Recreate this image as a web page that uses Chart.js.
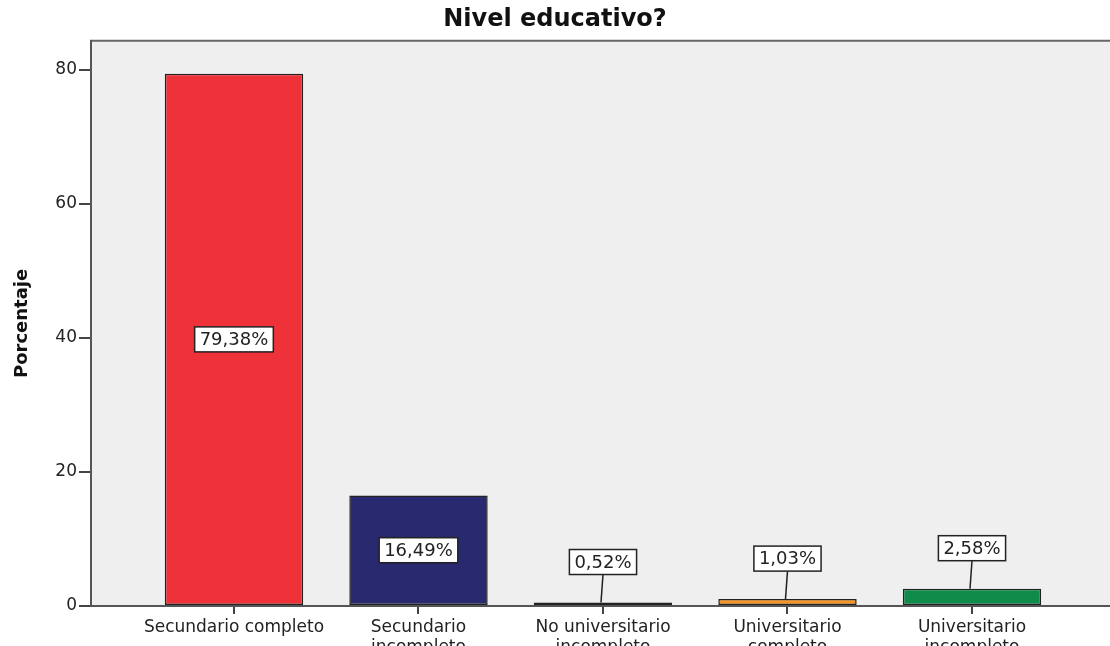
<!DOCTYPE html>
<html>
<head>
<meta charset="utf-8">
<script src="https://cdn.jsdelivr.net/npm/chart.js@4/dist/chart.umd.min.js"></script>
<style>
  html, body { margin: 0; padding: 0; background: #fff; }
  #wrap { width: 1110px; height: 646px; }
</style>
</head>
<body>
<div id="wrap"><canvas id="myChart" width="1110" height="646"></canvas></div>
<script>
const categories = [
  ['Secundario completo'],
  ['Secundario', 'incompleto'],
  ['No universitario', 'incompleto'],
  ['Universitario', 'completo'],
  ['Universitario', 'incompleto']
];
const percentages = [79.38, 16.49, 0.52, 1.03, 2.58];
const valueLabels = ['79,38%', '16,49%', '0,52%', '1,03%', '2,58%'];
const yTicks = [0, 20, 40, 60, 80];
const barColors = ['#EF3139', '#29296F', '#A89F6A', '#F7931E', '#118B4A'];

const FONT = "'DejaVu Sans', sans-serif";

// grey plot background + top frame line
const plotFrame = {
  id: 'plotFrame',
  beforeDraw(chart) {
    const { ctx, chartArea: a } = chart;
    ctx.save();
    ctx.fillStyle = '#EFEFEF';
    ctx.fillRect(a.left, a.top, a.right - a.left, a.bottom - a.top);
    ctx.strokeStyle = '#666';
    ctx.lineWidth = 2;
    ctx.beginPath();
    ctx.moveTo(a.left - 1, a.top);
    ctx.lineTo(a.right, a.top);
    ctx.stroke();
    ctx.restore();
  }
};

// boxed percentage labels, inside tall bars, above short ones with a leader line
const boxLabels = {
  id: 'boxLabels',
  afterDatasetsDraw(chart) {
    const { ctx } = chart;
    const meta = chart.getDatasetMeta(0);
    ctx.save();
    ctx.font = '18px ' + FONT;
    ctx.textAlign = 'center';
    ctx.textBaseline = 'middle';
    meta.data.forEach((bar, i) => {
      const text = valueLabels[i];
      const w = ctx.measureText(text).width + 10;
      const h = 25;
      let cy;
      const barH = bar.base - bar.y;
      if (barH > 40) {
        cy = (bar.y + bar.base) / 2;
      } else {
        cy = bar.y - 28 - h / 2;
        ctx.strokeStyle = '#222';
        ctx.lineWidth = 1.5;
        ctx.beginPath();
        ctx.moveTo(bar.x, cy + h / 2);
        ctx.lineTo(bar.x - 2, bar.y);
        ctx.stroke();
      }
      ctx.fillStyle = '#fff';
      ctx.fillRect(bar.x - w / 2, cy - h / 2, w, h);
      ctx.strokeStyle = '#222';
      ctx.lineWidth = 1.5;
      ctx.strokeRect(bar.x - w / 2, cy - h / 2, w, h);
      ctx.fillStyle = '#222';
      ctx.fillText(text, bar.x, cy + 1);
    });
    ctx.restore();
  }
};

const ctx = document.getElementById('myChart').getContext('2d');
const myChart = new Chart(ctx, {
  type: 'bar',
  data: {
    datasets: [{
      data: percentages.map((v, i) => ({ x: i, y: v })),
      backgroundColor: barColors,
      borderColor: '#222',
      borderWidth: 1.5,
      borderSkipped: false,
      barPercentage: 0.75,
      categoryPercentage: 1
    }]
  },
  options: {
    responsive: false,
    animation: false,
    layout: { padding: { left: 0, right: 0, top: 0, bottom: 0 } },
    plugins: {
      legend: { display: false },
      tooltip: { enabled: false },
      title: {
        display: true,
        text: 'Nivel educativo?',
        color: '#111',
        font: { family: FONT, size: 24, weight: 'bold' },
        padding: { top: 5, bottom: 7 }
      }
    },
    scales: {
      x: {
        type: 'linear',
        offset: false,
        min: -0.775,
        max: 4.748,
        afterBuildTicks: s => { s.ticks = categories.map((c, i) => ({ value: i })); },
        afterFit: s => { s.height = 40; },
        ticks: {
          callback: (v) => categories[v],
          color: '#222',
          font: { family: FONT, size: 17 },
          padding: 3,
          maxRotation: 0,
          autoSkip: false
        },
        grid: { offset: false, drawOnChartArea: false, color: '#444', lineWidth: 2, tickLength: 8 },
        border: { color: '#555', width: 2 }
      },
      y: {
        min: 0,
        max: 84.3,
        afterBuildTicks: s => { s.ticks = yTicks.map(v => ({ value: v })); },
        afterFit: s => { s.width = 91; },
        ticks: {
          color: '#222',
          font: { family: FONT, size: 17 },
          padding: 2
        },
        grid: { drawOnChartArea: false, color: '#444', lineWidth: 2, tickLength: 12 },
        border: { color: '#555', width: 2 },
        title: {
          display: true,
          text: 'Porcentaje',
          color: '#111',
          font: { family: FONT, size: 18, weight: 'bold' },
          padding: { top: 12, bottom: 0 }
        }
      }
    }
  },
  plugins: [plotFrame, boxLabels]
});
</script>
</body>
</html>
